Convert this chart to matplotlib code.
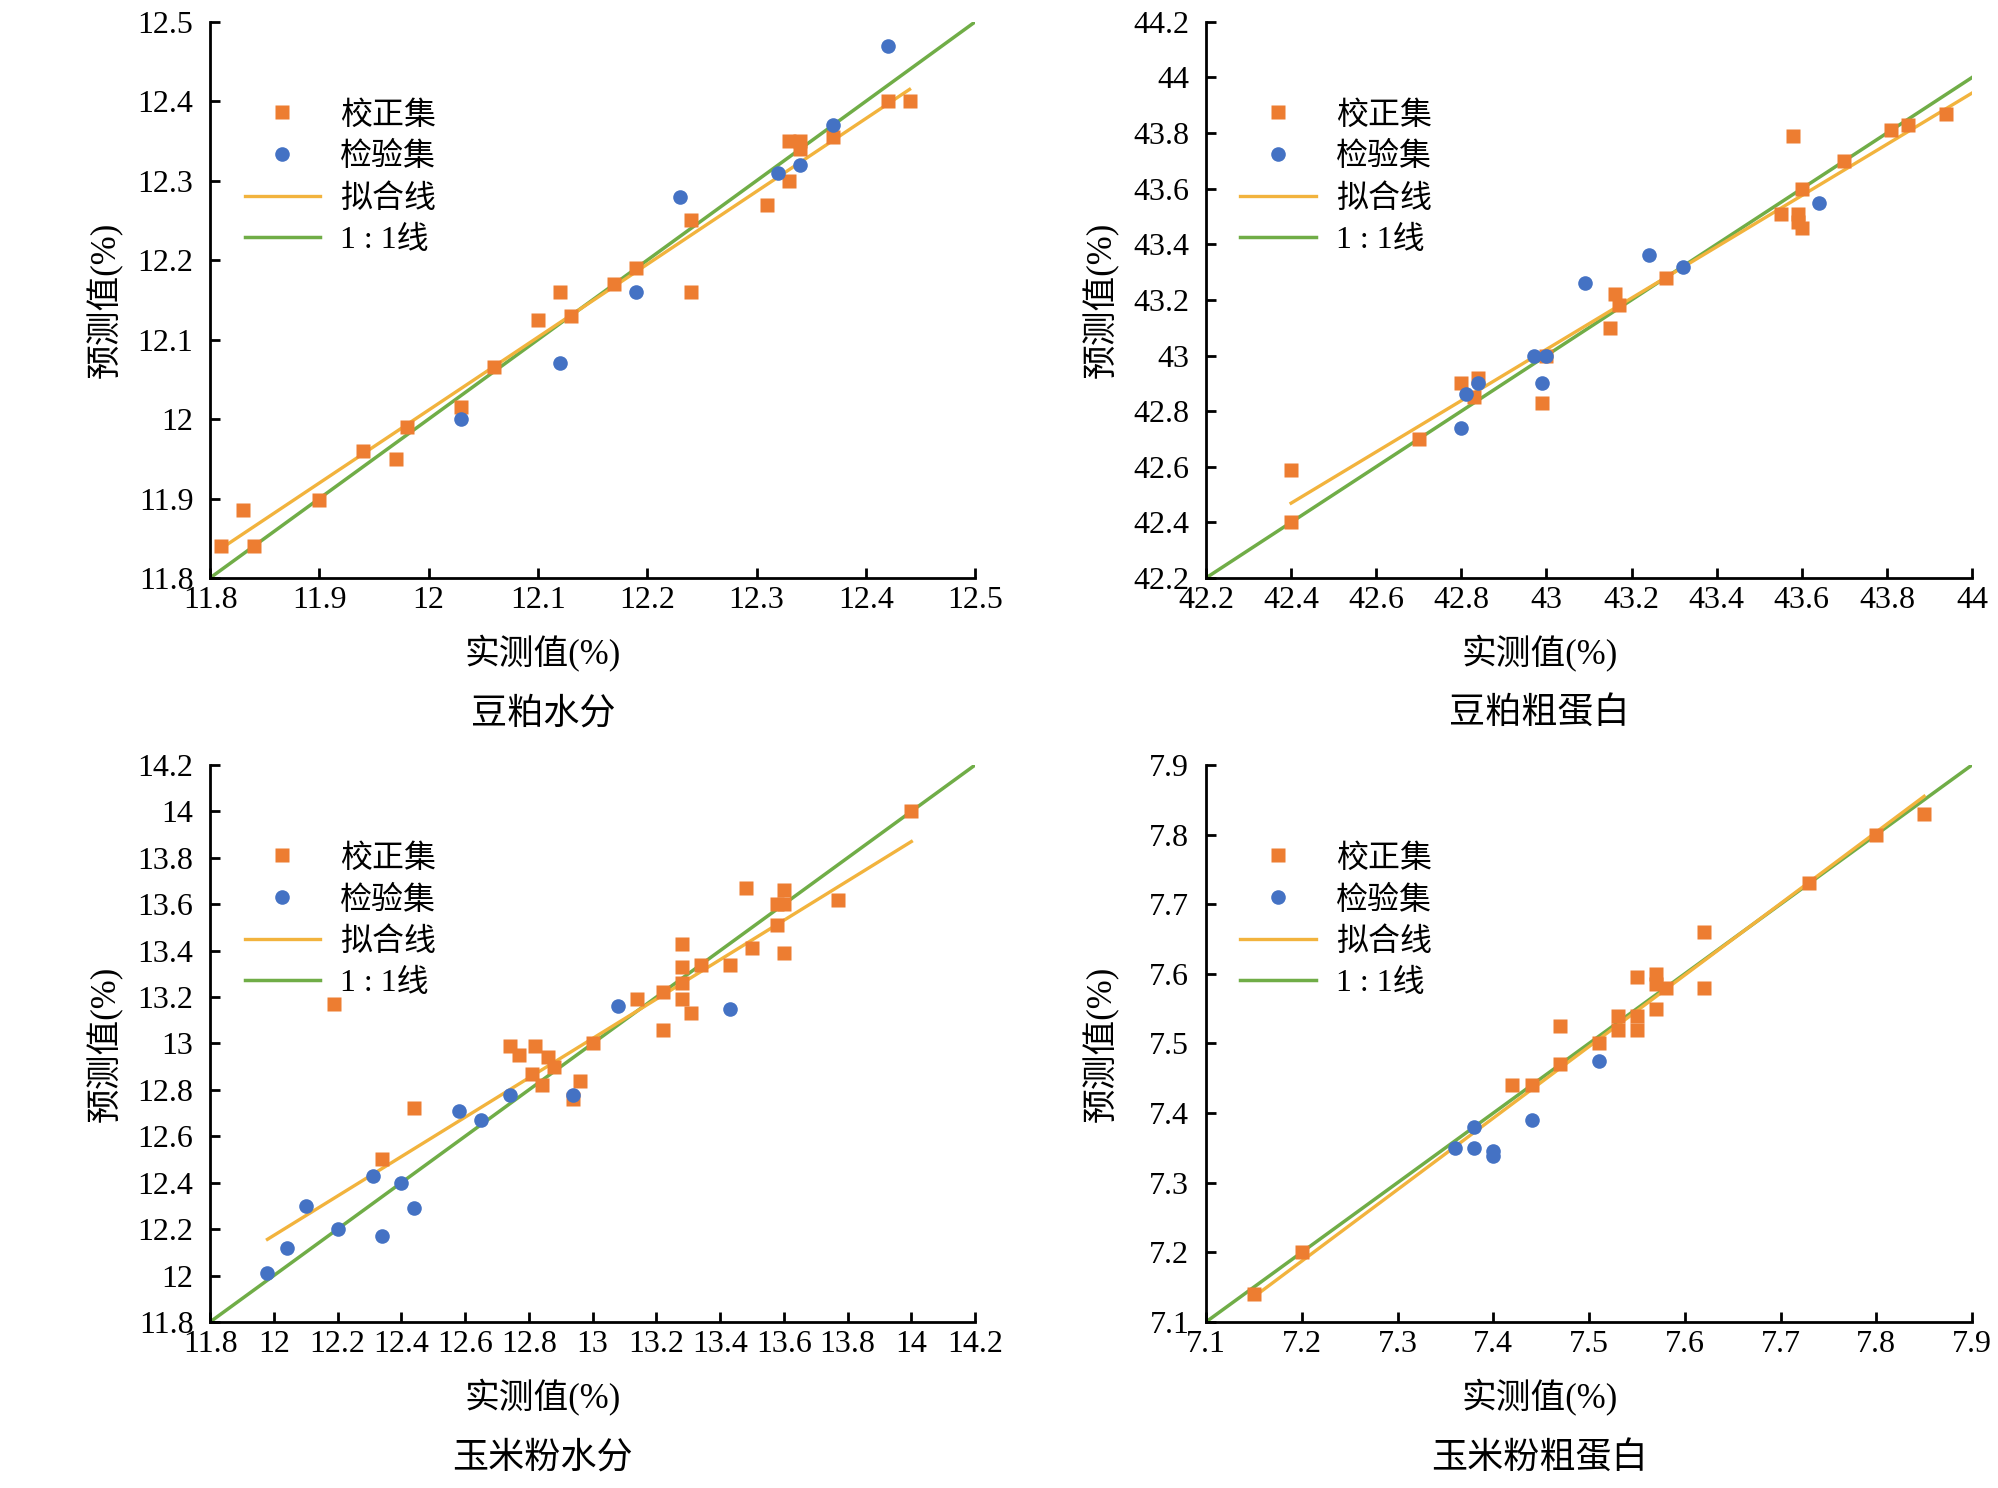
import matplotlib
matplotlib.use("Agg")
import matplotlib.pyplot as plt
from matplotlib.lines import Line2D
from matplotlib.ticker import FuncFormatter, MultipleLocator

plt.rcParams['font.family'] = ['Liberation Serif', 'Noto Sans CJK SC']

# ---------------- data ----------------
titles = ['豆粕水分', '豆粕粗蛋白', '玉米粉水分', '玉米粉粗蛋白']
xlabel_text = '实测值(%)'
ylabel_text = '预测值(%)'
legend_labels = ['校正集', '检验集', '拟合线', '1 : 1线']

# Panel 1: 豆粕水分
p1_cal_x = [11.81, 11.83, 11.84, 11.90, 11.94, 11.97, 11.98, 12.03, 12.06, 12.10, 12.12, 12.13,
            12.17, 12.19, 12.24, 12.24, 12.31, 12.33, 12.33, 12.34, 12.34, 12.37, 12.42, 12.44]
p1_cal_y = [11.84, 11.885, 11.84, 11.898, 11.96, 11.95, 11.99, 12.015, 12.065, 12.125, 12.16, 12.13,
            12.17, 12.19, 12.25, 12.16, 12.27, 12.30, 12.35, 12.35, 12.34, 12.355, 12.40, 12.40]
p1_val_x = [12.03, 12.12, 12.19, 12.23, 12.32, 12.34, 12.37, 12.42]
p1_val_y = [12.00, 12.07, 12.16, 12.28, 12.31, 12.32, 12.37, 12.47]
p1_fit_x = [11.81, 12.44]
p1_fit_y = [11.837, 12.415]
p1_xlim = [11.8, 12.5]
p1_ylim = [11.8, 12.5]
p1_step = 0.1

# Panel 2: 豆粕粗蛋白
p2_cal_x = [42.40, 42.40, 42.70, 42.80, 42.84, 42.83, 42.99, 43.00, 43.15, 43.16, 43.17, 43.28,
            43.55, 43.58, 43.59, 43.59, 43.60, 43.60, 43.70, 43.81, 43.85, 43.94]
p2_cal_y = [42.59, 42.40, 42.70, 42.90, 42.92, 42.85, 42.83, 43.00, 43.10, 43.22, 43.18, 43.28,
            43.51, 43.79, 43.51, 43.48, 43.46, 43.60, 43.70, 43.81, 43.83, 43.87]
p2_val_x = [42.80, 42.81, 42.84, 42.97, 43.00, 42.99, 43.09, 43.24, 43.32, 43.64]
p2_val_y = [42.74, 42.86, 42.90, 43.00, 43.00, 42.90, 43.26, 43.36, 43.32, 43.55]
p2_fit_x = [42.40, 44.00]
p2_fit_y = [42.469, 43.944]
p2_xlim = [42.2, 44.0]
p2_ylim = [42.2, 44.2]
p2_step = 0.2

# Panel 3: 玉米粉水分
p3_cal_x = [12.19, 12.34, 12.44, 12.74, 12.77, 12.82, 12.86, 12.88, 12.81, 12.84, 12.96, 12.94,
            13.00, 13.14, 13.22, 13.22, 13.28, 13.28, 13.28, 13.28, 13.31, 13.34, 13.43, 13.48,
            13.50, 13.58, 13.58, 13.60, 13.60, 13.60, 13.77, 14.00]
p3_cal_y = [13.17, 12.50, 12.72, 12.99, 12.95, 12.99, 12.94, 12.90, 12.87, 12.82, 12.84, 12.76,
            13.00, 13.19, 13.22, 13.06, 13.43, 13.33, 13.26, 13.19, 13.13, 13.34, 13.34, 13.67,
            13.41, 13.51, 13.60, 13.66, 13.60, 13.39, 13.62, 14.00]
p3_val_x = [11.98, 12.04, 12.10, 12.20, 12.31, 12.34, 12.40, 12.44, 12.58, 12.65, 12.74, 12.94,
            13.08, 13.43]
p3_val_y = [12.01, 12.12, 12.30, 12.20, 12.43, 12.17, 12.40, 12.29, 12.71, 12.67, 12.78, 12.78,
            13.16, 13.15]
p3_fit_x = [11.98, 14.00]
p3_fit_y = [12.156, 13.87]
p3_xlim = [11.8, 14.2]
p3_ylim = [11.8, 14.2]
p3_step = 0.2

# Panel 4: 玉米粉粗蛋白
p4_cal_x = [7.15, 7.20, 7.42, 7.44, 7.47, 7.47, 7.51, 7.53, 7.53, 7.55, 7.55, 7.55, 7.57, 7.57,
            7.58, 7.57, 7.62, 7.62, 7.73, 7.80, 7.85]
p4_cal_y = [7.14, 7.20, 7.44, 7.44, 7.47, 7.525, 7.50, 7.54, 7.52, 7.595, 7.54, 7.52, 7.60, 7.585,
            7.58, 7.55, 7.66, 7.58, 7.73, 7.80, 7.83]
p4_val_x = [7.36, 7.38, 7.38, 7.40, 7.40, 7.44, 7.51]
p4_val_y = [7.35, 7.38, 7.35, 7.345, 7.338, 7.39, 7.475]
p4_fit_x = [7.15, 7.85]
p4_fit_y = [7.136, 7.855]
p4_xlim = [7.1, 7.9]
p4_ylim = [7.1, 7.9]
p4_step = 0.1

# ---------------- style ----------------
c_cal = '#ED7D31'
c_val = '#4472C4'
c_fit = '#F2B33D'
c_one = '#70AD47'
ms = 10.5

fig = plt.figure(figsize=(19.99, 14.88), dpi=100)
positions = [
    [0.1051, 0.6116, 0.3827, 0.3737],
    [0.6033, 0.6116, 0.3832, 0.3737],
    [0.1051, 0.1116, 0.3827, 0.3743],
    [0.6033, 0.1116, 0.3832, 0.3743],
]
panels = [
    (p1_cal_x, p1_cal_y, p1_val_x, p1_val_y, p1_fit_x, p1_fit_y, p1_xlim, p1_ylim, p1_step),
    (p2_cal_x, p2_cal_y, p2_val_x, p2_val_y, p2_fit_x, p2_fit_y, p2_xlim, p2_ylim, p2_step),
    (p3_cal_x, p3_cal_y, p3_val_x, p3_val_y, p3_fit_x, p3_fit_y, p3_xlim, p3_ylim, p3_step),
    (p4_cal_x, p4_cal_y, p4_val_x, p4_val_y, p4_fit_x, p4_fit_y, p4_xlim, p4_ylim, p4_step),
]

fmt = FuncFormatter(lambda v, p: f"{round(v, 3):g}")

for pos, title, (cx, cy, vx, vy, fx, fy, xlim, ylim, step) in zip(positions, titles, panels):
    ax = fig.add_axes(pos)
    lo = max(xlim[0], ylim[0])
    hi = min(xlim[1], ylim[1])
    ax.plot([lo, hi], [lo, hi], color=c_one, lw=2.5, zorder=1)
    ax.plot(fx, fy, color=c_fit, lw=2.4, zorder=2)
    ax.plot(cx, cy, linestyle='none', marker='s', ms=ms, color=c_cal, mec='none', zorder=3)
    ax.plot(vx, vy, linestyle='none', marker='o', ms=ms, color=c_val, mec='none', zorder=4)
    ax.set_xlim(xlim)
    ax.set_ylim(ylim)
    ax.xaxis.set_major_locator(MultipleLocator(step))
    ax.yaxis.set_major_locator(MultipleLocator(step))
    ax.xaxis.set_major_formatter(fmt)
    ax.yaxis.set_major_formatter(fmt)
    for s in ['top', 'right']:
        ax.spines[s].set_visible(False)
    for s in ['left', 'bottom']:
        ax.spines[s].set_linewidth(2.0)
        ax.spines[s].set_color('black')
    ax.tick_params(direction='in', length=7, width=2, labelsize=23, color='black')
    ax.tick_params(axis='x', pad=6)
    ax.tick_params(axis='y', pad=12)
    ax.text(0.435, -0.137, xlabel_text, transform=ax.transAxes, ha='center', va='center', fontsize=25)
    ax.text(-0.137, 0.5, ylabel_text, transform=ax.transAxes, ha='center', va='center',
            rotation=90, fontsize=25)
    ax.text(0.435, -0.245, title, transform=ax.transAxes, ha='center', va='center', fontsize=26)

    handles = [
        Line2D([], [], linestyle='none', marker='s', ms=ms, color=c_cal, mec='none'),
        Line2D([], [], linestyle='none', marker='o', ms=ms, color=c_val, mec='none'),
        Line2D([], [], color=c_fit, lw=2.4),
        Line2D([], [], color=c_one, lw=2.5),
    ]
    ax.legend(handles, legend_labels, loc='upper left', bbox_to_anchor=(0.045, 0.858),
              frameon=False, fontsize=23, handlelength=2.35, handletextpad=0.65,
              labelspacing=0.37, borderpad=0, borderaxespad=0)

fig.savefig('out.png', dpi=100)
